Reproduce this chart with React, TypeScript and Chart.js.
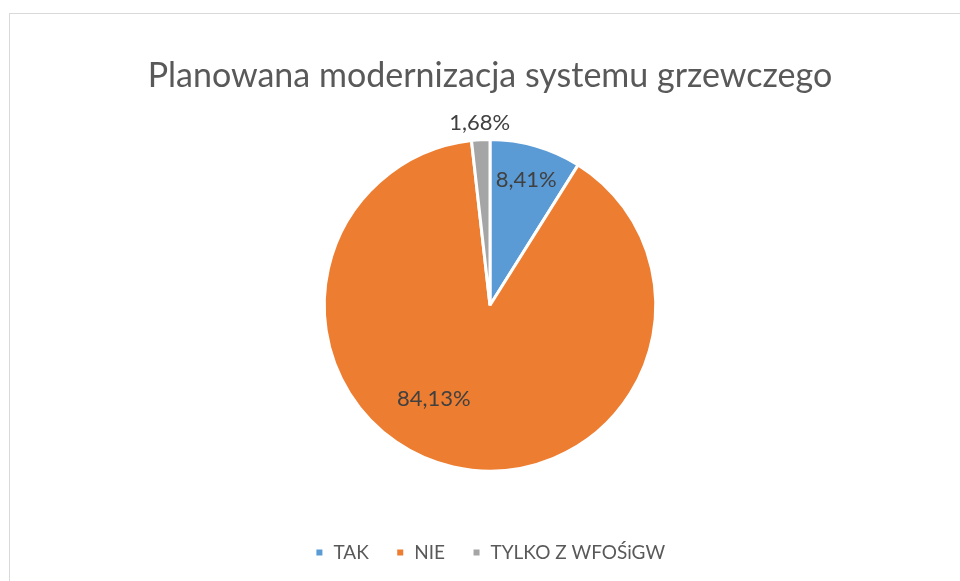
import React, { useEffect, useRef } from "react";
import { Chart, registerables } from "chart.js";

Chart.register(...registerables);

const TITLE = "Planowana modernizacja systemu grzewczego";
const categories = ["TAK", "NIE", "TYLKO Z WFOŚiGW"];
const values = [8.41, 84.13, 1.68];
const colors = ["#5B9BD5", "#ED7D31", "#A5A5A5"];

// label placement styles (radius factor, angle shift in degrees)
const labelRadius = [0.79, 0.66, 1.1];
const labelAngleShift = [0, 18, 0];

const fmt = (v: number) => v.toFixed(2).replace(".", ",") + "%";

export default function App() {
  const ref = useRef<HTMLCanvasElement | null>(null);

  useEffect(() => {
    if (!ref.current) return;
    const framePlugin = {
      id: "frame",
      beforeDraw(chart: any) {
        const ctx = chart.ctx;
        ctx.save();
        ctx.fillStyle = "#ffffff";
        ctx.fillRect(0, 0, chart.width, chart.height);
        ctx.strokeStyle = "#d9d9d9";
        ctx.lineWidth = 1;
        ctx.strokeRect(9.5, 13.5, 1200, 1200);
        ctx.restore();
      },
    };
    const labelPlugin = {
      id: "pieLabels",
      afterDatasetsDraw(chart: any) {
        const ctx = chart.ctx;
        const meta = chart.getDatasetMeta(0);
        ctx.save();
        ctx.font = "22px Lato";
        ctx.fillStyle = "#404040";
        ctx.textAlign = "center";
        ctx.textBaseline = "middle";
        meta.data.forEach((arc: any, i: number) => {
          const p = arc.getProps(["x", "y", "startAngle", "endAngle", "outerRadius"], true);
          const mid = (p.startAngle + p.endAngle) / 2 + (labelAngleShift[i] * Math.PI) / 180;
          const r = p.outerRadius * labelRadius[i];
          ctx.fillText(fmt(values[i]), p.x + Math.cos(mid) * r, p.y + Math.sin(mid) * r);
        });
        ctx.restore();
      },
    };
    const chart = new Chart(ref.current, {
      type: "pie",
      data: {
        labels: categories,
        datasets: [
          {
            data: values,
            backgroundColor: colors,
            borderColor: "#ffffff",
            borderWidth: 3,
            hoverOffset: 0,
          },
        ],
      },
      options: {
        responsive: false,
        maintainAspectRatio: false,
        animation: false,
        events: [],
        layout: { padding: { top: 0, bottom: 9, left: 20, right: 0 } },
        plugins: {
          tooltip: { enabled: false },
          title: {
            display: true,
            text: TITLE,
            color: "#595959",
            font: { family: "Lato", size: 34, weight: "normal", lineHeight: 1.2 },
            padding: { top: 55.6, bottom: 41.6 },
          },
          legend: {
            display: true,
            position: "bottom",
            title: {
              display: true,
              text: "",
              font: { size: 12, lineHeight: 1.2 },
              padding: { top: 29.1, bottom: 0 },
            },
            labels: {
              color: "#595959",
              font: { family: "Lato", size: 19 },
              boxWidth: 9,
              boxHeight: 9,
              padding: 27,
            },
          },
        },
      },
      plugins: [framePlugin, labelPlugin],
    });
    return () => chart.destroy();
  }, []);

  return (
    <div style={{ position: "absolute", left: 0, top: 0, width: 960, height: 581 }}>
      <canvas ref={ref} width={960} height={581} />
    </div>
  );
}
